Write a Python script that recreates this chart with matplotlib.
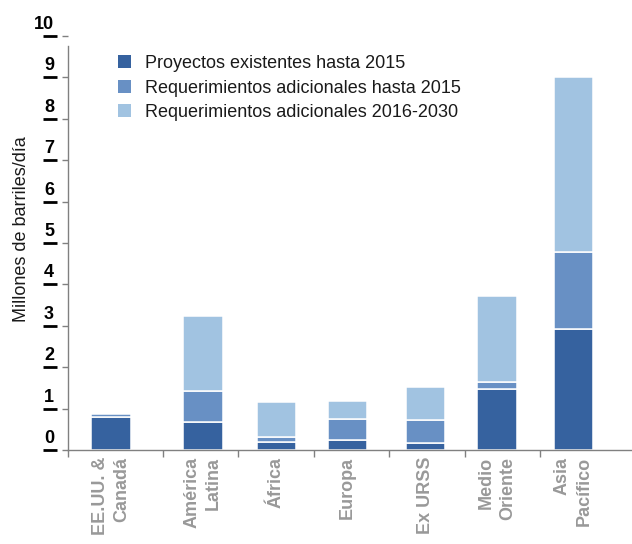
import matplotlib
matplotlib.use("Agg")
import matplotlib.pyplot as plt
from matplotlib.patches import Patch
import numpy as np

plt.rcParams["font.family"] = ["Liberation Sans", "DejaVu Sans"]

# ── Data (millones de barriles/día) ────────────────────────────────────────
regions   = ["EE.UU. &\nCanadá", "América\nLatina", "África", "Europa",
             "Ex URSS", "Medio\nOriente", "Asia\nPacífico"]
existing  = [0.80, 0.67, 0.20, 0.23, 0.18, 1.48, 2.92]   # proyectos existentes hasta 2015
add_2015  = [0.07, 0.75, 0.11, 0.53, 0.54, 0.16, 1.87]   # requerimientos adicionales hasta 2015
add_2030  = [0.00, 1.82, 0.85, 0.43, 0.81, 2.08, 4.21]   # requerimientos adicionales 2016-2030
series_labels = ["Proyectos existentes hasta 2015",
                 "Requerimientos adicionales hasta 2015",
                 "Requerimientos adicionales 2016-2030"]
yticks = list(range(0, 11))

# ── Style ──────────────────────────────────────────────────────────────────
DARK  = "#36629f"
MID   = "#6890c4"
LIGHT = "#a1c3e1"
AXIS  = "#808080"
XLAB  = "#999999"
TEXT  = "#1a1a1a"
W, H  = 632, 544

# bar centres (first group sits a bit further left of its separator)
xpos = np.array([-0.19, 1.03, 2.0, 2.95, 3.98, 4.93, 5.94])
seps = [-0.76, 0.5, 1.5, 2.5, 3.5, 4.5, 5.5]

fig = plt.figure(figsize=(W / 100, H / 100), dpi=100)
ax = fig.add_axes([68 / W, 94 / H, 564 / W, 414 / H])

# stacked segments split by thin white lines (no outline on empty segments)
bottom = np.zeros(len(regions))
for vals, col in zip((existing, add_2015, add_2030), (DARK, MID, LIGHT)):
    vals = np.array(vals)
    edges = ["white" if v > 0 else "none" for v in vals]
    ax.bar(xpos, vals, 0.52, bottom=bottom, color=col, edgecolor=edges,
           linewidth=1.1, zorder=2)
    bottom += vals

ax.set_xlim(-0.76, 6.72)
ax.set_ylim(0, 10)

# spines
for s in ("top", "right"):
    ax.spines[s].set_visible(False)
for s in ("left", "bottom"):
    ax.spines[s].set_color(AXIS)
    ax.spines[s].set_linewidth(1.0)
    ax.spines[s].set_zorder(3)
ax.spines["left"].set_bounds(0, 9.76)

# x axis: labels under the bars, small separator ticks between groups
ax.set_xticks(xpos)
ax.set_xticklabels(regions, rotation=90, ha="center", va="top",
                   multialignment="right", fontsize=13, fontweight="bold",
                   color=XLAB, linespacing=1.35)
ax.tick_params(axis="x", which="major", length=0, pad=5)
ax.set_xticks(seps, minor=True)
ax.tick_params(axis="x", which="minor", length=5, width=1.0, color=AXIS)

# y axis: bold numbers sitting above a black dash at each tick
ax.set_yticks(yticks)
ax.set_yticklabels([])
ax.tick_params(axis="y", length=4.5, width=1.0, color=AXIS)
ytr = ax.get_yaxis_transform()
for v in yticks:
    ax.annotate(str(v), xy=(0, v), xycoords=ytr, xytext=(-14, 7),
                textcoords="offset pixels", ha="right", va="baseline",
                fontsize=13, fontweight="bold", color="black",
                annotation_clip=False)
    ax.plot([-25 / 564, -11 / 564], [v, v], transform=ytr, color="black",
            linewidth=2.0, solid_capstyle="butt", clip_on=False)

fig.text(22 / W, 1 - 229 / H, "Millones de barriles/día", rotation=90,
         ha="center", va="center", fontsize=13, color=TEXT)

handles = [Patch(facecolor=c, edgecolor="none") for c in (DARK, MID, LIGHT)]
ax.legend(handles, series_labels, loc="upper left",
          bbox_to_anchor=(118 / W, 1 - 55 / H), bbox_transform=fig.transFigure,
          frameon=False, fontsize=13, handlelength=0.72, handleheight=0.72,
          handletextpad=0.78, labelspacing=0.42, borderpad=0, borderaxespad=0,
          labelcolor=TEXT)

fig.savefig("out.png", dpi=100, facecolor="white")
